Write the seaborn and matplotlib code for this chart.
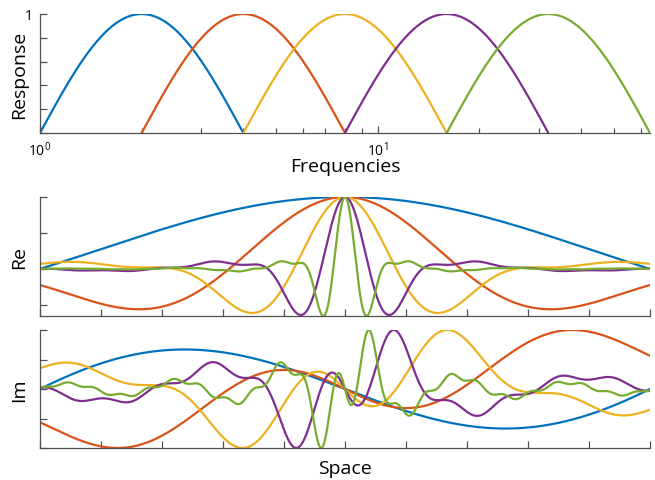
import numpy as np
import pandas as pd
import seaborn as sns
import matplotlib
matplotlib.use('Agg')
import matplotlib.pyplot as plt
from matplotlib.ticker import NullFormatter

# %% values
band_lo = [1, 2, 4, 8, 16]          # lower edge of each band
band_hi = [4, 8, 16, 32, 64]        # upper edge of each band
band_names = ['b1', 'b2', 'b3', 'b4', 'b5']
line_colors = ['#0072BD', '#D95319', '#EDB120', '#7E2F8E', '#77AC30']
im_peak = [0.67, 1.0, 1.0, 1.0, 1.0]  # peak of each Im curve inside the window
freq_index = np.arange(1, 65)         # bin i holds i-1 cycles per period
space_half = 0.1834                   # half width of the space window, in periods
freq_lim = [1, 64]

sns.set_style('white')
plt.rcParams['font.family'] = ['Open Sans', 'DejaVu Sans']
plt.rcParams['mathtext.default'] = 'regular'
plt.rcParams['axes.edgecolor'] = '#505050'
plt.rcParams['xtick.color'] = '#505050'
plt.rcParams['ytick.color'] = '#505050'
plt.rcParams['xtick.labelcolor'] = 'black'
plt.rcParams['ytick.labelcolor'] = 'black'
plt.rcParams['axes.labelcolor'] = 'black'


def response(f, lo, hi):
    r = np.sin(np.pi * np.log(f / lo) / np.log(hi / lo))
    r[(f < lo) | (f > hi)] = 0
    return r


# %% build curves
freq_rows, space_rows = [], []
u = np.linspace(-space_half, space_half, 1500)
for name, lo, hi, amp in zip(band_names, band_lo, band_hi, im_peak):
    f = np.geomspace(lo, hi, 400)
    freq_rows.append(pd.DataFrame({'f': f, 'r': response(f, lo, hi), 'band': name}))

    w = response(freq_index.astype(float), lo, hi)
    re = (w[None, :] * np.cos(2 * np.pi * (freq_index - 1)[None, :] * u[:, None])).sum(1) / w.sum()
    im = -u * re
    im = im / np.abs(im).max() * amp
    space_rows.append(pd.DataFrame({'x': u, 're': re, 'im': im, 'band': name}))

freq_df = pd.concat(freq_rows)
space_df = pd.concat(space_rows)
pal = dict(zip(band_names, line_colors))

# %% figure
fig = plt.figure(figsize=(6.55, 4.81), dpi=100)
W = 655.0
H = 481.0
left, width = 40 / W, 610 / W
ax1 = fig.add_axes([left, 1 - 134 / H, width, 119 / H])
ax2 = fig.add_axes([left, 1 - 317 / H, width, 119 / H])
ax3 = fig.add_axes([left, 1 - 449 / H, width, 118 / H])

sns.lineplot(data=freq_df, x='f', y='r', hue='band', palette=pal, estimator=None,
             sort=False, lw=1.6, legend=False, ax=ax1)
sns.lineplot(data=space_df, x='x', y='re', hue='band', palette=pal, estimator=None,
             sort=False, lw=1.6, legend=False, ax=ax2)
sns.lineplot(data=space_df, x='x', y='im', hue='band', palette=pal, estimator=None,
             sort=False, lw=1.6, legend=False, ax=ax3)

for ax in (ax1, ax2, ax3):
    sns.despine(ax=ax)
    ax.tick_params(which='both', bottom=True, left=True, top=False, right=False)
    ax.tick_params(direction='in', length=5, width=0.9, labelsize=10, pad=5)
    ax.tick_params(which='minor', direction='in', length=3.5, width=0.9)
    ax.spines['left'].set_linewidth(0.9)
    ax.spines['bottom'].set_linewidth(0.9)
    ax.yaxis.set_label_coords(-0.0197, 0.5)

# top: frequency responses
ax1.set_xscale('log')
ax1.set_xlim(freq_lim)
ax1.set_ylim(0, 1)
ax1.set_xticks([1, 10])
ax1.set_xticklabels(['$10^0$', '$10^1$'])
ax1.xaxis.set_minor_formatter(NullFormatter())
ax1.set_yticks(np.linspace(0, 1, 6))
ax1.set_yticklabels([''] * 5 + ['1'])
ax1.set_ylabel('Response', fontsize=14)
ax1.set_xlabel('Frequencies', fontsize=14)
ax1.xaxis.set_label_coords(0.5, -0.20)

# middle and bottom: filters in space
space_ticks = np.linspace(-space_half, space_half, 11)
for ax in (ax2, ax3):
    ax.set_xlim(-space_half, space_half)
    ax.set_xticks(space_ticks)
    ax.set_xticklabels([])

ax2.set_ylim(space_df['re'].min(), 1)
ax2.set_yticks([-0.5, 0, 0.5, 1])
ax2.set_yticklabels([])
ax2.set_ylabel('Re', fontsize=14)
ax2.set_xlabel('')

ax3.set_ylim(-1, 1)
ax3.set_yticks([-1, -0.5, 0, 0.5, 1])
ax3.set_yticklabels([])
ax3.set_ylabel('Im', fontsize=14)
ax3.set_xlabel('Space', fontsize=14)
ax3.xaxis.set_label_coords(0.5, -0.09)

fig.savefig('out.png', dpi=100)
